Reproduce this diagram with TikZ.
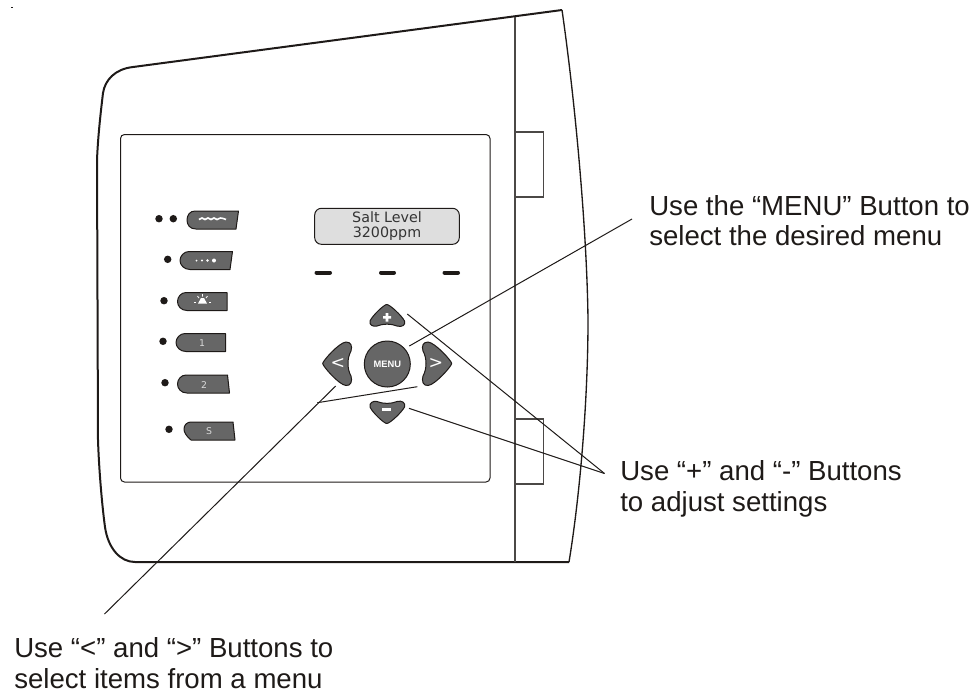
\documentclass[tikz,border=0pt]{standalone}
\usepackage{fontspec}
\setmainfont{Liberation Sans}
\newfontfamily\panelfont{DejaVu Sans}
\definecolor{btn}{HTML}{666666}
\definecolor{lcd}{HTML}{DEDEDE}
\definecolor{ink}{HTML}{1E1A18}
\tikzset{
 outlineln/.style={draw=ink,line width=1.5pt,line join=round},
 thinln/.style={draw=ink,line width=0.75pt},
 partln/.style={draw=ink!80,line width=1pt},
 leader/.style={draw=ink,line width=0.75pt},
 softkey/.style={draw=ink,fill=btn,line width=0.75pt,line join=round},
 dotled/.style={circle,fill=ink,inner sep=0pt,minimum size=5.6pt},
 slotbar/.style={draw=ink,line width=3pt,line cap=round},
 callout/.style={font=\fontsize{20.7pt}{23pt}\selectfont,text=ink,align=left,anchor=north west,inner sep=0pt},
 keytxt/.style={text=black!15,font=\panelfont\fontsize{7pt}{8pt}\selectfont,inner sep=0pt},
 arrowtxt/.style={text=white,font=\panelfont\fontsize{13pt}{14pt}\selectfont,inner sep=0pt},
}
\begin{document}
\begin{tikzpicture}[x=0.75pt,y=-0.75pt]
\useasboundingbox (0,0) rectangle (974,694);
% housing
\draw[outlineln] (562,10) -- (133,67) .. controls (115,69) and (105,80) .. (103,93)
  .. controls (101,110) and (98,135) .. (97,160) -- (98,440)
  .. controls (99,470) and (102,505) .. (105,527)
  .. controls (108,548) and (120,562) .. (135,562) -- (569,562);
\draw[draw=ink,line width=1pt] (562,10) .. controls (575,100) and (587,230) .. (588,320) .. controls (588,400) and (580,495) .. (569,562);
\draw[partln] (515,17) -- (515,562);
\draw[partln] (515,132) rectangle (543.5,197);
\draw[partln] (515,419) rectangle (543.5,484);
% panel
\draw[thinln,rounded corners=3pt] (120.5,134.5) rectangle (490,482);
% LEDs
\node[dotled] (l1a) at (159,218.7) {};
\node[dotled] (l1b) at (173.3,218.7) {};
\node[dotled] (l2) at (167.7,259.3) {};
\node[dotled] (l3) at (164,300.7) {};
\node[dotled] (l4) at (163,341.3) {};
\node[dotled] (l5) at (165,382.7) {};
\node[dotled] (l6) at (169,429.3) {};
% left buttons
\draw[softkey] (195,211) -- (238.5,211) -- (236,229) -- (196,229) .. controls (190,229) and (187,225) .. (187,220) .. controls (187,215) and (190,211) .. (195,211) -- cycle;
\draw[softkey] (189,251.5) -- (232.5,251.5) -- (230,269.5) -- (190,269.5) .. controls (184,269.5) and (180,265) .. (180,260.5) .. controls (180,256) and (184,251.5) .. (189,251.5) -- cycle;
\draw[softkey] (186,292.5) -- (227,292.5) -- (227,310.5) -- (187,310.5) .. controls (181,310.5) and (177.5,306) .. (177.5,301.5) .. controls (177.5,297) and (181,292.5) .. (186,292.5) -- cycle;
\draw[softkey] (185,333.5) -- (225.5,333.5) -- (225.5,351.5) -- (186,351.5) .. controls (180,351.5) and (176,347) .. (176,342.5) .. controls (176,338) and (180,333.5) .. (185,333.5) -- cycle;
\draw[softkey] (186,375) -- (227.5,375) -- (229.5,393) -- (187,393) .. controls (181,393) and (177.5,388.5) .. (177.5,384) .. controls (177.5,379.5) and (181,375) .. (186,375) -- cycle;
\draw[softkey] (191,422) -- (233,422) -- (235,440) -- (191,440) .. controls (186,436) and (184,432) .. (184,429) .. controls (184,425) and (187,422) .. (191,422) -- cycle;
% icons
\draw[white,line width=1.2pt] (199,219.5) .. controls (201,217.5) and (203,217.5) .. (205,219.5) .. controls (207,217.5) and (209,217.5) .. (211,219.5) .. controls (213,217.5) and (215,217.5) .. (217,219.5) .. controls (219,217.5) and (221,217.5) .. (226,219.5);
\foreach \px/\pr in {196.5/1,202/1.2,207.5/1.4,214/2}{\fill[white] (\px,260.5) circle[radius=\pr];}
\fill[white] (198,303.5) -- (201,298) -- (204,298) -- (207,303.5) -- cycle;
\draw[white,line width=0.6pt] (197.5,296) -- (199,298) (202.5,294) -- (202.5,296.5) (207.5,296) -- (206,298);
\draw[white,line width=0.8pt] (194,302.5) -- (196,302.5) (209,302.5) -- (211,302.5);
\node[keytxt] (k1) at (202,343) {1};
\node[keytxt] (k2) at (204,385) {2};
\node[keytxt] (k3) at (209,431.5) {S};
% display
\draw[draw=ink,fill=lcd,line width=0.75pt,rounded corners=5pt] (314.7,208.3) rectangle (459.3,244.3);
\node[font=\panelfont\fontsize{10.7pt}{12pt}\selectfont,text=black!80,align=center,inner sep=0pt] (lcdtxt) at (387,226.5) {Salt Level\\[-0.8pt]3200ppm};
% slot bars
\draw[slotbar] (316.5,272.5) -- (330,272.5);
\draw[slotbar] (381,272.5) -- (394,272.5);
\draw[slotbar] (444.5,272.5) -- (458,272.5);
% navigation keys
\draw[softkey] (386.7,304.5) .. controls (384,304.5) and (372,316) .. (370,321) .. controls (369,325) and (373,327) .. (377,326) .. controls (383,323.5) and (391,323.5) .. (397,326) .. controls (402,327.5) and (406,325) .. (404.5,321) .. controls (402,316) and (390,304.5) .. (386.7,304.5) -- cycle;
\draw[softkey] (386.7,423.5) .. controls (384,423.5) and (372,412) .. (370,407) .. controls (369,403) and (373,400.5) .. (377,401.5) .. controls (383,404) and (391,404) .. (397,401.5) .. controls (402,400) and (406,403) .. (404.5,407) .. controls (402,412) and (390,423.5) .. (386.7,423.5) -- cycle;
\draw[softkey] (322.7,363.5) .. controls (322.7,361) and (339,342.5) .. (346,342) .. controls (351,342) and (352.5,346) .. (351,351) .. controls (347,358) and (347,369) .. (351,376) .. controls (352.5,381) and (351,386) .. (346,385.5) .. controls (339,385) and (322.7,366) .. (322.7,363.5) -- cycle;
\draw[softkey] (451.7,363.5) .. controls (451.7,361) and (435,342.5) .. (428,342) .. controls (423,342) and (421.5,346) .. (423,351) .. controls (427,358) and (427,369) .. (423,376) .. controls (421.5,381) and (423,386) .. (428,385.5) .. controls (435,385) and (451.7,366) .. (451.7,363.5) -- cycle;
\node[softkey,circle,minimum size=34.5pt,inner sep=0pt] (menu) at (387.3,364) {};
\node[text=white,font=\bfseries\fontsize{7pt}{8pt}\selectfont,inner sep=0pt] (menutxt) at (387.3,364) {MENU};
\fill[white] (383,316) rectangle (391,318.5) (385.7,313) rectangle (388.3,321.5);
\fill[white] (382,407.5) rectangle (391,410.5);
\node[arrowtxt] (ltxt) at (338,363) {<};
\node[arrowtxt] (rtxt) at (436,363) {>};
% leaders
\coordinate (mA) at (409.3,346);
\coordinate (mB) at (632,219);
\coordinate (pA) at (407.3,314);
\coordinate (mdA) at (409,408.3);
\coordinate (pm) at (604.5,473.5);
\coordinate (lA) at (335.7,386);
\coordinate (lB) at (104.5,614);
\coordinate (rA) at (417.3,386.7);
\coordinate (rB) at (317.3,402.7);
\draw[leader] (mA) -- (mB);
\draw[leader] (pA) -- (pm);
\draw[leader] (mdA) -- (pm);
\draw[leader] (lA) -- (lB);
\draw[leader] (rA) -- (rB);
% labels
\node[callout] (t1) at (649,195) {Use the “MENU” Button to\\select the desired menu};
\node[callout] (t2) at (620,460.7) {Use “+” and “-” Buttons\\to adjust settings};
\node[callout] (t3) at (14,637.5) {Use “<” and “>” Buttons to\\select items from a menu};
\fill[ink] (11,6.5) rectangle (13,7.3);
\end{tikzpicture}
\end{document}
